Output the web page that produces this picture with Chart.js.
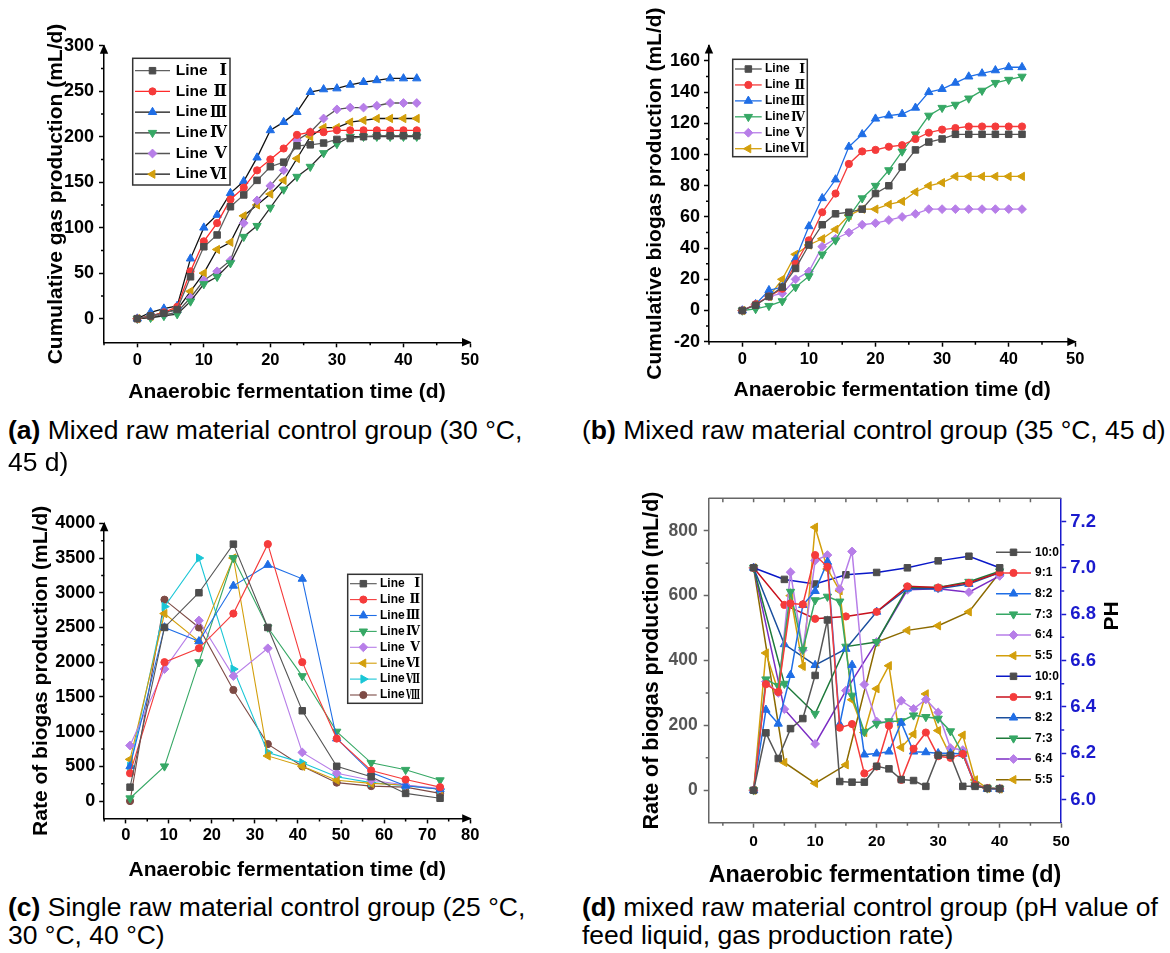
<!DOCTYPE html>
<html>
<head>
<meta charset="utf-8">
<script src="https://cdn.jsdelivr.net/npm/chart.js@4.4.0/dist/chart.umd.min.js"></script>
<style>
body { margin: 0; background: #fff; width: 1170px; height: 953px; overflow: hidden; position: relative; font-family: "Liberation Sans", Arial, sans-serif; }
canvas { position: absolute; }
.cap { position: absolute; font-size: 26.5px; line-height: 32px; white-space: nowrap; color: #000; z-index: 2; }
</style>
</head>
<body>
<canvas id="chartA" width="585" height="410" style="left:0;top:0"></canvas>
<canvas id="chartB" width="585" height="410" style="left:585px;top:0"></canvas>
<canvas id="chartC" width="585" height="420" style="left:0;top:470px"></canvas>
<canvas id="chartD" width="585" height="420" style="left:585px;top:470px"></canvas>

<div class="cap" style="left:8px;top:414px"><b>(a)</b> Mixed raw material control group (30 °C,</div>
<div class="cap" style="left:8px;top:446px">45 d)</div>
<div class="cap" style="left:582px;top:414px">(<b>b)</b> Mixed raw material control group (35 °C, 45 d)</div>
<div class="cap" style="left:8px;top:891px"><b>(c)</b> Single raw material control group (25 °C,</div>
<div class="cap" style="left:8px;top:919px">30 °C, 40 °C)</div>
<div class="cap" style="left:582px;top:891px"><b>(d)</b> mixed raw material control group (pH value of</div>
<div class="cap" style="left:582px;top:919px">feed liquid, gas production rate)</div>

<script>
// ---- data ----
const daysAB = [0, 2, 4, 6, 8, 10, 12, 14, 16, 18, 20, 22, 24, 26, 28, 30, 32, 34, 36, 38, 40, 42];

// (a) cumulative gas production, 30 °C
const gasA1 = [0, 3, 6, 10, 46, 79, 92, 123, 136, 152, 167, 172, 190, 191, 193, 197, 198, 200, 201, 201, 201, 201];
const gasA2 = [0, 3, 7, 13, 52, 85, 105, 131, 144, 163, 175, 187, 202, 205, 205, 207, 207, 207, 207, 207, 207, 207];
const gasA3 = [0, 7, 11, 14, 66, 100, 114, 138, 151, 177, 207, 216, 227, 249, 252, 253, 257, 260, 262, 264, 264, 264];
const gasA4 = [0, 1, 3, 5, 19, 38, 46, 61, 90, 102, 122, 142, 156, 167, 182, 192, 200, 200, 200, 200, 200, 200];
const gasA5 = [0, 2, 4, 7, 23, 42, 52, 64, 105, 130, 146, 163, 196, 205, 220, 230, 232, 232, 234, 237, 237, 237];
const gasA6 = [0, 2.5, 7, 10, 30, 50, 76, 84, 113, 125, 137, 152, 176, 200, 210, 210, 216, 218, 220, 220, 220, 220];

// (b) cumulative biogas production, 35 °C
const gasB1 = [0, 3.4, 9, 15, 27, 42, 55, 62, 63, 65, 75, 80, 92, 103, 108, 110, 113, 113, 113, 113, 113, 113];
const gasB2 = [0, 4, 9, 14, 30, 45, 63, 75, 94, 102, 103, 105, 106, 110, 114, 116, 117, 118, 118, 118, 118, 118];
const gasB3 = [0, 4, 13, 15, 33, 54, 72, 84, 105, 113, 123, 125, 126, 130, 140, 142, 146, 150, 152, 154, 156, 156];
const gasB4 = [0, 1, 3, 6, 15, 22, 36, 45, 60, 72, 80, 90, 102, 113, 125, 130, 132, 136, 141, 146, 148, 150];
const gasB5 = [0, 4, 9, 11, 20, 25, 41, 46, 50, 55, 56, 58, 60, 62, 65, 65, 65, 65, 65, 65, 65, 65];
const gasB6 = [0, 4, 9, 20, 36, 42, 46, 52, 61, 65, 65, 68, 70, 76, 80, 82, 86, 86, 86, 86, 86, 86];

// (c) rate of biogas production, single raw material
const daysC = [1, 9, 17, 25, 33, 41, 49, 57, 65, 73];
const rateC1 = [200, 2500, 3000, 3700, 2500, 1300, 500, 350, 110, 40];
const rateC2 = [400, 2000, 2200, 2700, 3700, 2000, 900, 440, 310, 200];
const rateC3 = [500, 2500, 2300, 3100, 3400, 3200, 900, 410, 220, 170];
const rateC4 = [40, 500, 2000, 3500, 2500, 1800, 1000, 550, 450, 300];
const rateC5 = [800, 1900, 2600, 1800, 2200, 700, 400, 300, 230, 180];
const rateC6 = [600, 2700, 2300, 3500, 650, 500, 300, 255, 230, 170];
const rateC7 = [500, 2800, 3500, 1900, 700, 550, 350, 265, 220, 170];
const rateC8 = [0, 2900, 2500, 1600, 820, 500, 265, 215, 200, 110];

// (d) gas production rate and pH, mixed raw material
const daysRate = [0, 2, 4, 6, 8, 10, 12, 14, 16, 18, 20, 22, 24, 26, 28, 30, 32, 34, 36, 38, 40];
const rate100 = [0, 177, 98, 190, 221, 354, 525, 27, 25, 25, 74, 66, 33, 30, 12, 108, 108, 12, 12, 6, 5];
const rate91 = [0, 327, 303, 576, 573, 725, 689, 193, 204, 52, 73, 199, 32, 128, 178, 105, 100, 112, 17, 6, 5];
const rate82 = [0, 248, 205, 355, 571, 614, 704, 203, 386, 110, 113, 119, 208, 119, 117, 114, 114, 112, 16, 4, 4];
const rate73 = [0, 342, 322, 612, 433, 586, 597, 582, 292, 180, 205, 213, 213, 231, 226, 221, 182, 111, 18, 6, 5];
const rate64 = [0, 335, 300, 672, 432, 708, 725, 620, 736, 326, 212, 208, 276, 251, 280, 240, 130, 124, 16, 6, 5];
const rate55 = [0, 423, 305, 600, 382, 811, 682, 615, 279, 178, 313, 384, 132, 173, 297, 184, 106, 170, 32, 6, 4];
const daysPH = [0, 5, 10, 15, 20, 25, 30, 35, 40];
const ph100 = [7.0, 6.95, 6.93, 6.97, 6.98, 7.0, 7.03, 7.05, 7.0];
const ph91 = [7.0, 6.84, 6.78, 6.79, 6.81, 6.92, 6.915, 6.935, 6.98];
const ph82 = [7.0, 6.67, 6.58, 6.65, 6.81, 6.91, 6.91, 6.93, 6.98];
const ph73 = [7.0, 6.50, 6.37, 6.66, 6.68, 6.915, 6.915, 6.94, 6.985];
const ph64 = [7.0, 6.39, 6.24, 6.47, 6.68, 6.905, 6.91, 6.895, 6.965];
const ph55 = [7.0, 6.16, 6.07, 6.15, 6.68, 6.73, 6.75, 6.81, 6.98];

// tick labels
const xTicksAB = [0, 10, 20, 30, 40, 50];
const yTicksA = [0, 50, 100, 150, 200, 250, 300];
const yTicksB = [-20, 0, 20, 40, 60, 80, 100, 120, 140, 160];
const xTicksC = [0, 10, 20, 30, 40, 50, 60, 70, 80];
const yTicksC = [0, 500, 1000, 1500, 2000, 2500, 3000, 3500, 4000];
const xTicksD = [0, 10, 20, 30, 40, 50];
const yTicksD = [0, 200, 400, 600, 800];
const phTicksD = [6.0, 6.2, 6.4, 6.6, 6.8, 7.0, 7.2];

const lineNames = ['Line Ⅰ', 'Line Ⅱ', 'Line Ⅲ', 'Line Ⅳ', 'Line Ⅴ', 'Line Ⅵ', 'Line Ⅶ', 'Line Ⅷ'];
const ratioNames = ['10:0', '9:1', '8:2', '7:3', '6:4', '5:5'];

// ---- styles ----
const FONT = '"Liberation Sans", Arial, sans-serif';
const SERIF = '"DejaVu Serif", "Liberation Serif", serif';
Chart.defaults.font.family = FONT;
Chart.defaults.color = '#000';

const GREY = '#4d4d4d', RED = '#f53b3b', BLUE = '#1f6ee6', GREEN = '#36a865',
      PURPLE = '#b77ee8', GOLD = '#d39f0c', CYAN = '#1ac6d6', BROWN = '#7d4b45';
const markColors = [GREY, RED, BLUE, GREEN, PURPLE, GOLD, CYAN, BROWN];
const markStyles = [['rect', 0], ['circle', 0], ['triangle', 0], ['triangle', 180],
                    ['rectRot', 0], ['triangle', 270], ['triangle', 90], ['circle', 0]];
const radii = { rect: 4.6, circle: 3.6, triangle: 4.8, rectRot: 4.4 };

function series(label, xs, ys, k, lineColor, width, axis) {
  const [style, rot] = markStyles[k];
  return {
    label: label,
    data: xs.map((x, i) => ({ x: x, y: ys[i] })),
    borderColor: lineColor,
    borderWidth: width,
    pointBackgroundColor: markColors[k],
    pointBorderColor: markColors[k],
    pointBorderWidth: 1,
    pointStyle: style,
    pointRotation: rot,
    pointRadius: radii[style],
    yAxisID: axis || 'y',
    tension: 0,
    fill: false
  };
}

function xScale(o) {
  const col = o.color || '#000';
  return {
    type: 'linear', position: 'bottom', min: o.min, max: o.max,
    afterBuildTicks: s => { s.ticks = o.ticks.map(v => ({ value: v })); },
    afterFit: s => { s.height = o.height; s.paddingLeft = 0; s.paddingRight = 0; },
    grid: { drawOnChartArea: false, drawTicks: true, tickLength: 5, tickColor: col, tickWidth: 1.5 },
    border: { display: true, color: col, width: 1.5 },
    ticks: { autoSkip: false, maxRotation: 0, padding: o.tickPad, color: '#000',
             font: { size: o.tickSize, weight: 'bold' }, callback: v => String(v) },
    title: { display: true, text: 'Anaerobic fermentation time (d)', color: '#000',
             font: { size: o.titleSize, weight: 'bold' }, padding: { top: 0, bottom: o.titlePad } }
  };
}

function yScale(o) {
  const col = o.color || '#000';
  return {
    type: 'linear', position: o.position || 'left', min: o.min, max: o.max,
    afterBuildTicks: s => { s.ticks = o.ticks.map(v => ({ value: v })); },
    afterFit: s => { s.width = o.width; s.paddingTop = 0; s.paddingBottom = 0; },
    grid: { drawOnChartArea: false, drawTicks: true, tickLength: 5, tickColor: col, tickWidth: 1.5 },
    border: { display: true, color: col, width: 1.5 },
    ticks: { autoSkip: false, padding: o.tickPad, color: o.labelColor || '#000',
             font: { size: o.tickSize, weight: 'bold' }, callback: o.fmt || (v => String(v)) },
    title: { display: !!o.title, text: o.title || '', color: '#000',
             font: { size: o.titleSize || 21, weight: 'bold' }, padding: { top: o.titlePad || 0, bottom: 0 } }
  };
}

// minor ticks, axis arrows, frame and free texts
const deco = {
  id: 'deco',
  afterDraw(chart, args, o) {
    const ctx = chart.ctx, a = chart.chartArea;
    ctx.save();
    (o.minor || []).forEach(m => {
      const s = chart.scales[m.id];
      ctx.strokeStyle = m.color || '#000';
      ctx.lineWidth = 1.5;
      const n = Math.round((m.to - m.from) / m.step);
      ctx.beginPath();
      for (let k = 0; k <= n; k++) {
        const p = s.getPixelForValue(m.from + k * m.step);
        if (m.side === 'bottom') { ctx.moveTo(p, a.bottom); ctx.lineTo(p, a.bottom + m.len); }
        else if (m.side === 'top') { ctx.moveTo(p, a.top); ctx.lineTo(p, a.top + m.len); }
        else if (m.side === 'left') { ctx.moveTo(a.left, p); ctx.lineTo(a.left - m.len, p); }
        else { ctx.moveTo(a.right, p); ctx.lineTo(a.right + m.len, p); }
      }
      ctx.stroke();
    });
    if (o.arrows) {
      ctx.fillStyle = '#000';
      ctx.beginPath();
      ctx.moveTo(a.left, a.top - 1.5); ctx.lineTo(a.left - 4.2, a.top + 8); ctx.lineTo(a.left + 4.2, a.top + 8);
      ctx.closePath(); ctx.fill();
      ctx.beginPath();
      ctx.moveTo(a.right + 1.5, a.bottom); ctx.lineTo(a.right - 8, a.bottom - 4.2); ctx.lineTo(a.right - 8, a.bottom + 4.2);
      ctx.closePath(); ctx.fill();
    }
    if (o.topLine) {
      ctx.strokeStyle = o.topLine; ctx.lineWidth = 1.5;
      ctx.beginPath(); ctx.moveTo(a.left, a.top); ctx.lineTo(a.right, a.top); ctx.stroke();
    }
    (o.texts || []).forEach(t => {
      ctx.save();
      ctx.translate(t.x, t.y); ctx.rotate(t.rot || 0);
      ctx.font = t.font; ctx.fillStyle = t.color || '#000';
      ctx.textAlign = 'center'; ctx.textBaseline = 'middle';
      ctx.fillText(t.text, 0, 0);
      ctx.restore();
    });
    ctx.restore();
  }
};

// legend drawn inside the plot, built from the datasets
const boxLegend = {
  id: 'boxLegend',
  afterDraw(chart, args, o) {
    if (o.y === undefined) return;
    const ctx = chart.ctx;
    ctx.save();
    if (o.box) {
      ctx.strokeStyle = '#333'; ctx.lineWidth = 1.5;
      ctx.strokeRect(o.box[0], o.box[1], o.box[2], o.box[3]);
    }
    chart.data.datasets.forEach((ds, k) => {
      const y = o.y + k * o.dy;
      ctx.strokeStyle = ds.borderColor; ctx.lineWidth = ds.borderWidth;
      ctx.beginPath(); ctx.moveTo(o.x0, y); ctx.lineTo(o.x1, y); ctx.stroke();
      ctx.fillStyle = ds.pointBackgroundColor; ctx.strokeStyle = ds.pointBorderColor; ctx.lineWidth = 1;
      if (Chart.helpers && Chart.helpers.drawPoint) {
        Chart.helpers.drawPoint(ctx, { pointStyle: ds.pointStyle, rotation: ds.pointRotation,
                                       radius: ds.pointRadius, borderWidth: 1 }, (o.x0 + o.x1) / 2, y);
      }
      ctx.fillStyle = '#000'; ctx.font = o.font;
      ctx.textAlign = 'left'; ctx.textBaseline = 'middle';
      const parts = ds.label.split(' ');
      if (o.numFont && parts.length === 2) {
        // "Line" in sans, the roman numeral in a bold serif squeezed into its slot
        ctx.fillText(parts[0], o.tx, y);
        ctx.font = o.numFont;
        const w = ctx.measureText(parts[1]).width;
        const sx = Math.min(1, o.numW / w);
        ctx.save();
        ctx.translate(o.numX, y + 0.5); ctx.scale(sx, 1);
        ctx.textAlign = 'right';
        ctx.fillText(parts[1], 0, 0);
        ctx.restore();
      } else {
        ctx.fillText(ds.label, o.tx, y);
      }
    });
    ctx.restore();
  }
};

Chart.register(deco, boxLegend);

function baseOptions(padding, scales, plugins) {
  return {
    responsive: false, animation: false, devicePixelRatio: 1,
    layout: { padding: padding },
    scales: scales,
    plugins: Object.assign({ legend: { display: false }, tooltip: { enabled: false } }, plugins)
  };
}

// ---- (a) ----
const linesA = ['#606060', '#ff2a2a', '#111111', '#2a2a2a', '#555555', '#111111'];
new Chart(document.getElementById('chartA'), {
  type: 'line',
  data: { datasets: [gasA1, gasA2, gasA3, gasA4, gasA5, gasA6].map((v, k) => series(lineNames[k], daysAB, v, k, linesA[k], 1.3)) },
  options: baseOptions({ left: 0, top: 45.7, right: 115, bottom: 0 }, {
    x: xScale({ min: -5, max: 50, ticks: xTicksAB, height: 67.7, tickSize: 16.5, tickPad: 3, titleSize: 21, titlePad: 5.4 }),
    y: yScale({ min: -26, max: 300, ticks: yTicksA, width: 104, tickSize: 18, tickPad: 5,
                title: 'Cumulative gas production (mL/d)', titleSize: 21, titlePad: 43.4 })
  }, {
    deco: { arrows: true, minor: [
      { id: 'x', from: -5, to: 45, step: 10, side: 'bottom', len: 3 },
      { id: 'y', from: 25, to: 275, step: 50, side: 'left', len: 3 }] },
    boxLegend: { box: [132.7, 58.3, 97.3, 126.7], y: 70.7, dy: 20.7, x0: 135, x1: 170, tx: 175.7,
                 font: 'bold 15.5px ' + FONT, numFont: 'bold 16px ' + SERIF, numX: 227, numW: 17 }
  })
});

// ---- (b) ----
const linesB = ['#555555', RED, BLUE, GREEN, PURPLE, GOLD];
new Chart(document.getElementById('chartB'), {
  type: 'line',
  data: { datasets: [gasB1, gasB2, gasB3, gasB4, gasB5, gasB6].map((v, k) => series(lineNames[k], daysAB, v, k, linesB[k], 1.3)) },
  options: baseOptions({ left: 0, top: 45.4, right: 94.7, bottom: 0 }, {
    x: xScale({ min: -5, max: 50, ticks: xTicksAB, height: 68.3, tickSize: 16.5, tickPad: 3, titleSize: 21, titlePad: 7.4 }),
    y: yScale({ min: -20, max: 170, ticks: yTicksB, width: 124, tickSize: 18, tickPad: 4,
                title: 'Cumulative biogas production (mL/d)', titleSize: 21, titlePad: 57.9 })
  }, {
    deco: { arrows: true, minor: [
      { id: 'x', from: -5, to: 45, step: 10, side: 'bottom', len: 3 },
      { id: 'y', from: -10, to: 150, step: 20, side: 'left', len: 3 }] },
    boxLegend: { box: [147.7, 59.3, 74.6, 97.4], y: 69, dy: 15.94, x0: 150, x1: 176.7, tx: 180,
                 font: 'bold 12px ' + FONT, numFont: 'bold 12.5px ' + SERIF, numX: 220, numW: 14 }
  })
});

// ---- (c) ----
const linesC = ['#555555', RED, BLUE, GREEN, PURPLE, GOLD, CYAN, BROWN];
new Chart(document.getElementById('chartC'), {
  type: 'line',
  data: { datasets: [rateC1, rateC2, rateC3, rateC4, rateC5, rateC6, rateC7, rateC8].map((v, k) => series(lineNames[k], daysC, v, k, linesC[k], 1.1)) },
  options: baseOptions({ left: 0, top: 53.3, right: 114.8, bottom: 0 }, {
    x: xScale({ min: -5, max: 80, ticks: xTicksC, height: 71.6, tickSize: 16.5, tickPad: 2, titleSize: 21, titlePad: 7.4 }),
    y: yScale({ min: -250, max: 4000, ticks: yTicksC, width: 104.2, tickSize: 18, tickPad: 4,
                title: 'Rate of biogas production (mL/d)', titleSize: 21, titlePad: 28.4 })
  }, {
    deco: { arrows: true, minor: [
      { id: 'x', from: -5, to: 75, step: 10, side: 'bottom', len: 3 },
      { id: 'y', from: 250, to: 3750, step: 500, side: 'left', len: 3 }] },
    boxLegend: { box: [347.7, 104.3, 74.6, 129], y: 113.7, dy: 15.9, x0: 350, x1: 376.7, tx: 380,
                 font: 'bold 12px ' + FONT, numFont: 'bold 12.5px ' + SERIF, numX: 420, numW: 14 }
  })
});

// ---- (d) ----
const rateLinesD = ['#555555', RED, BLUE, GREEN, PURPLE, GOLD];
const phLinesD = ['#0a18c8', '#c8101c', '#1b4f9e', '#1e7a3b', '#7b2dc4', '#8c6a00'];
const rateSetD = [rate100, rate91, rate82, rate73, rate64, rate55];
const phSetD = [ph100, ph91, ph82, ph73, ph64, ph55];
const AXIS_GREY = '#666666', PH_BLUE = '#1a1acd';
new Chart(document.getElementById('chartD'), {
  type: 'line',
  data: { datasets: rateSetD.map((v, k) => series(ratioNames[k], daysRate, v, k, rateLinesD[k], 1.5))
            .concat(phSetD.map((v, k) => series(ratioNames[k], daysPH, v, k, phLinesD[k], 1.5, 'y2'))) },
  options: baseOptions({ left: 0, top: 28.3, right: 0, bottom: 0 }, {
    x: xScale({ min: -7.3, max: 50, ticks: xTicksD, height: 67.3, tickSize: 15.5, tickPad: 4.7,
                titleSize: 23.8, titlePad: 0.7, color: AXIS_GREY }),
    y: yScale({ min: -100, max: 900, ticks: yTicksD, width: 123.7, tickSize: 17.5, tickPad: 6,
                color: AXIS_GREY, labelColor: '#555555',
                title: 'Rate of biogas production (mL/d)', titleSize: 21.5, titlePad: 54.1 }),
    y2: yScale({ position: 'right', min: 5.9, max: 7.3, ticks: phTicksD, width: 108.8, tickSize: 18.5, tickPad: 4,
                 color: PH_BLUE, labelColor: PH_BLUE, fmt: v => v.toFixed(1) })
  }, {
    deco: { topLine: AXIS_GREY, minor: [
      { id: 'x', from: -5, to: 45, step: 10, side: 'bottom', len: 3, color: AXIS_GREY },
      { id: 'x', from: -5, to: 45, step: 5, side: 'top', len: 4, color: AXIS_GREY },
      { id: 'y', from: 100, to: 700, step: 200, side: 'left', len: 3, color: AXIS_GREY },
      { id: 'y2', from: 6.1, to: 7.1, step: 0.2, side: 'right', len: 3, color: PH_BLUE }],
      texts: [{ text: 'PH', x: 527, y: 146, rot: -Math.PI / 2, font: 'bold 21px ' + FONT }] },
    boxLegend: { y: 82.3, dy: 20.67, x0: 411, x1: 446, tx: 450, font: 'bold 12px ' + FONT }
  })
});
</script>
</body>
</html>
